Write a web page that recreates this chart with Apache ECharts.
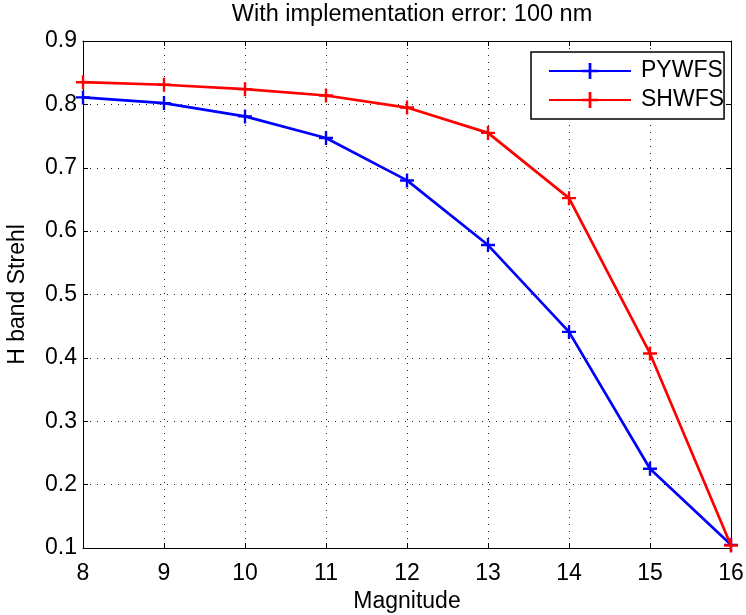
<!DOCTYPE html>
<html>
<head>
<meta charset="utf-8">
<script src="https://cdn.jsdelivr.net/npm/echarts@6/dist/echarts.min.js"></script>
<style>html,body{margin:0;padding:0;background:#fff;}#c{width:746px;height:615px;}</style>
</head>
<body>
<div id="c"></div>
<script>
const magnitudes = [8, 9, 10, 11, 12, 13, 14, 15, 16];
const pywfs = [0.811, 0.802, 0.781, 0.747, 0.680, 0.578, 0.441, 0.225, 0.105];
const shwfs = [0.835, 0.831, 0.824, 0.814, 0.795, 0.755, 0.652, 0.407, 0.104];
const titleText = 'With implementation error: 100 nm';
const xName = 'Magnitude';
const yName = 'H band Strehl';

const FONT = '"Liberation Sans", Arial, Helvetica, sans-serif';
const plus = 'path://M-1.2,-7 L1.2,-7 L1.2,-1.2 L7,-1.2 L7,1.2 L1.2,1.2 L1.2,7 L-1.2,7 L-1.2,1.2 L-7,1.2 L-7,-1.2 L-1.2,-1.2 Z';

const chart = echarts.init(document.getElementById('c'), null, {renderer: 'canvas'});
const axisCommon = {
  axisLine: {show: true, onZero: false, lineStyle: {color: '#000', width: 1}},
  axisTick: {show: true, inside: true, length: 5, lineStyle: {color: '#000', width: 1}},
};
chart.setOption({
  animation: false,
  backgroundColor: '#fff',
  title: {
    text: titleText, left: 407, top: -2, textAlign: 'center',
    textStyle: {fontFamily: FONT, fontSize: 23.5, fontWeight: 'normal', color: '#000'}
  },
  grid: {left: 83, right: 15, top: 41, bottom: 67, containLabel: false, outerBoundsMode: 'none'},
  legend: {
    orient: 'vertical', left: 531, top: 52,
    padding: [7.5, 0, 7.5, 17], itemGap: 6, itemWidth: 82, itemHeight: 20,
    backgroundColor: '#fff', borderColor: '#000', borderWidth: 1.5, borderRadius: 0,
    textStyle: {fontFamily: FONT, fontSize: 23, color: '#000', padding: [0, 0, 0, 5]},
    data: ['PYWFS', 'SHWFS']
  },
  xAxis: [
    Object.assign({
      type: 'value', min: 8, max: 16, interval: 1, position: 'bottom',
      name: xName, nameLocation: 'middle', nameGap: 39,
      nameTextStyle: {fontFamily: FONT, fontSize: 23, color: '#000'},
      axisLabel: {fontFamily: FONT, fontSize: 23, color: '#000', margin: 14},
      splitLine: {show: true, lineStyle: {color: '#222', width: 1, type: [1, 6]}}
    }, axisCommon),
    Object.assign({
      type: 'value', min: 8, max: 16, interval: 1, position: 'top',
      axisLabel: {show: false}, splitLine: {show: false}
    }, axisCommon)
  ],
  yAxis: [
    Object.assign({
      type: 'value', min: 0.1, max: 0.9, interval: 0.1, position: 'left',
      name: yName, nameLocation: 'middle', nameGap: 54,
      nameTextStyle: {fontFamily: FONT, fontSize: 23, color: '#000'},
      axisLabel: {fontFamily: FONT, fontSize: 23, color: '#000', margin: 6,
        formatter: v => v.toFixed(1)},
      splitLine: {show: true, lineStyle: {color: '#222', width: 1, type: [1, 6]}}
    }, axisCommon),
    Object.assign({
      type: 'value', min: 0.1, max: 0.9, interval: 0.1, position: 'right',
      axisLabel: {show: false}, splitLine: {show: false}
    }, axisCommon)
  ],
  series: [
    {
      name: 'PYWFS', type: 'line', xAxisIndex: 0, yAxisIndex: 0,
      data: magnitudes.map((m, i) => [m, pywfs[i]]),
      symbol: plus, symbolSize: 14, showAllSymbol: true,
      lineStyle: {color: '#0000ff', width: 2.7},
      itemStyle: {color: '#0000ff'}
    },
    {
      name: 'SHWFS', type: 'line', xAxisIndex: 0, yAxisIndex: 0,
      data: magnitudes.map((m, i) => [m, shwfs[i]]),
      symbol: plus, symbolSize: 14, showAllSymbol: true,
      lineStyle: {color: '#ff0000', width: 2.7},
      itemStyle: {color: '#ff0000'}
    }
  ]
});
</script>
</body>
</html>
